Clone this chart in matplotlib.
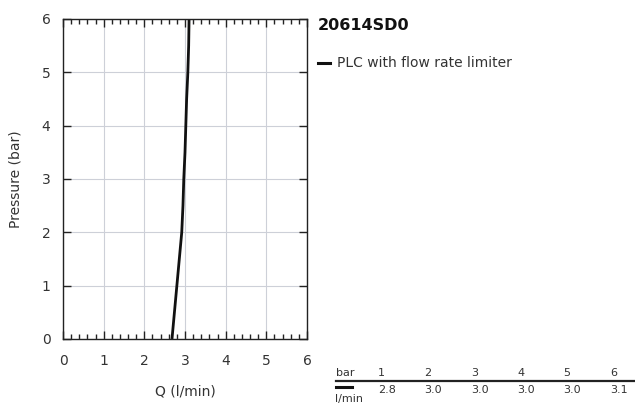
import matplotlib
matplotlib.use("Agg")
import matplotlib.pyplot as plt
from matplotlib.ticker import MultipleLocator

# Data
pressure = [0.0, 0.5, 1.0, 1.5, 2.0, 2.5, 3.0, 3.5, 4.0, 4.5, 5.0, 5.5, 6.0]
flow = [2.68, 2.74, 2.80, 2.86, 2.92, 2.95, 2.97, 3.00, 3.02, 3.04, 3.07, 3.09, 3.10]
title = "20614SD0"
series_label = "PLC with flow rate limiter"
table_bar = ["1", "2", "3", "4", "5", "6"]
table_flow = ["2.8", "3.0", "3.0", "3.0", "3.0", "3.1"]

W, H = 635, 405
fig = plt.figure(figsize=(W / 100, H / 100), dpi=100)
txt = "#333333"

ax = fig.add_axes([63 / W, 1 - 339 / H, (307 - 63) / W, (339 - 19) / H])
ax.plot(flow, pressure, color="#111111", lw=2.0, solid_capstyle="butt")
ax.set_xlim(0, 6)
ax.set_ylim(0, 6)
ax.xaxis.set_major_locator(MultipleLocator(1))
ax.xaxis.set_minor_locator(MultipleLocator(0.2))
ax.yaxis.set_major_locator(MultipleLocator(1))
ax.grid(True, which="major", color="#cdd0d8", lw=0.8)
ax.set_axisbelow(True)
ax.tick_params(axis="x", which="major", direction="in", top=True, length=6, width=1, color="#222222",
               labelsize=10, labelcolor=txt, pad=11)
ax.tick_params(axis="x", which="minor", direction="in", top=True, length=3.5, width=1, color="#222222")
ax.tick_params(axis="y", which="major", direction="in", right=True, length=6, width=1, color="#222222",
               labelsize=10, labelcolor=txt, pad=9)
for s in ax.spines.values():
    s.set_color("#222222")
    s.set_linewidth(1)
ax.set_xlabel("Q (l/min)", fontsize=10, color=txt, labelpad=12)
ax.set_ylabel("Pressure (bar)", fontsize=10, color=txt, labelpad=14)

def fx(px):
    return px / W

def fy(py):
    return 1 - py / H

fig.text(fx(318), fy(25), title, fontsize=11.5, fontweight="bold", color="#111111", va="center", ha="left")
fig.add_artist(plt.Line2D([fx(318), fx(330)], [fy(63), fy(63)], color="#111111", lw=2.2))
fig.text(fx(337), fy(63), series_label, fontsize=10, color=txt, va="center", ha="left")

# table
fs = 8
fig.text(fx(336), fy(373), "bar", fontsize=fs, color=txt, va="center", ha="left")
fig.add_artist(plt.Line2D([fx(336), fx(635)], [fy(380.5), fy(380.5)], color="#222222", lw=1.6))
fig.add_artist(plt.Line2D([fx(336), fx(352)], [fy(387), fy(387)], color="#111111", lw=2.2))
fig.text(fx(335), fy(399), "l/min", fontsize=fs, color=txt, va="center", ha="left")
x0, dx = 378, 46.4
for i, (b, q) in enumerate(zip(table_bar, table_flow)):
    fig.text(fx(x0 + i * dx), fy(373), b, fontsize=fs, color=txt, va="center", ha="left")
    fig.text(fx(x0 + i * dx), fy(390), q, fontsize=fs, color=txt, va="center", ha="left")

fig.savefig("out.png", dpi=100)
